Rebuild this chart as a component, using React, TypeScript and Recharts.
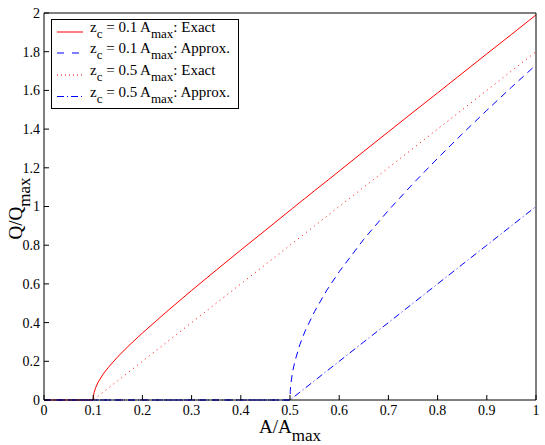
import React from 'react';
import { LineChart, Line, XAxis, YAxis, Legend } from 'recharts';

// A/Amax sample positions
const aValues = [
  0, 0.05, 0.1, 0.1005, 0.102, 0.105, 0.11, 0.12, 0.13, 0.15, 0.175, 0.2, 0.25, 0.3, 0.35, 0.4, 0.45, 0.5,
  0.5005, 0.502, 0.505, 0.51, 0.52, 0.53, 0.55, 0.575, 0.6, 0.65, 0.7, 0.75, 0.8, 0.85, 0.9, 0.95, 1,
];

// Q/Qmax
const redSolid = [
  0, 0, 0, 0.02, 0.04, 0.064, 0.092, 0.133, 0.166, 0.224, 0.287, 0.346, 0.458, 0.566, 0.671, 0.775, 0.877, 0.98,
  0.981, 0.984, 0.99, 1.0, 1.021, 1.041, 1.082, 1.132, 1.183, 1.285, 1.386, 1.487, 1.587, 1.688, 1.789, 1.889, 1.99,
];
const redDotted = [
  0, 0, 0, 0.001, 0.004, 0.01, 0.02, 0.04, 0.06, 0.1, 0.15, 0.2, 0.3, 0.4, 0.5, 0.6, 0.7, 0.8,
  0.801, 0.804, 0.81, 0.82, 0.84, 0.86, 0.9, 0.95, 1.0, 1.1, 1.2, 1.3, 1.4, 1.5, 1.6, 1.7, 1.8,
];
const blueDashed = [
  0, 0, 0, 0, 0, 0, 0, 0, 0, 0, 0, 0, 0, 0, 0, 0, 0, 0,
  0.045, 0.09, 0.142, 0.201, 0.286, 0.352, 0.458, 0.568, 0.663, 0.831, 0.98, 1.118, 1.249, 1.375, 1.497, 1.616, 1.732,
];
const blueDashDot = [
  0, 0, 0, 0, 0, 0, 0, 0, 0, 0, 0, 0, 0, 0, 0, 0, 0, 0,
  0.001, 0.004, 0.01, 0.02, 0.04, 0.06, 0.1, 0.15, 0.2, 0.3, 0.4, 0.5, 0.6, 0.7, 0.8, 0.9, 1.0,
];

const xTicks = [0, 0.1, 0.2, 0.3, 0.4, 0.5, 0.6, 0.7, 0.8, 0.9, 1];
const yTicks = [0, 0.2, 0.4, 0.6, 0.8, 1, 1.2, 1.4, 1.6, 1.8, 2];

const series = [
  { key: 'redSolid', zc: '0.1', kind: 'Exact', color: '#ff0000', dash: undefined, legendDash: undefined },
  { key: 'blueDashed', zc: '0.1', kind: 'Approx.', color: '#0000ff', dash: '7 5', legendDash: '7 8' },
  { key: 'redDotted', zc: '0.5', kind: 'Exact', color: '#ff0000', dash: '1 4', legendDash: '1 3' },
  { key: 'blueDashDot', zc: '0.5', kind: 'Approx.', color: '#0000ff', dash: '7 3 1 3', legendDash: '7 3 1 3' },
];
// draw order: reds underneath
const drawOrder = ['redSolid', 'redDotted', 'blueDashed', 'blueDashDot'];

const data = aValues.map((a, i) => ({
  a,
  redSolid: redSolid[i],
  redDotted: redDotted[i],
  blueDashed: blueDashed[i],
  blueDashDot: blueDashDot[i],
}));

const FONT = '"Liberation Serif", "Times New Roman", serif';

const XTick = (props: any) => (
  <text x={props.x} y={props.y} dy="0.71em" textAnchor="middle" fontFamily={FONT} fontSize={14} fill="#000">
    {props.payload.value}
  </text>
);

const YTick = (props: any) => (
  <text x={props.x} y={props.y} dy="0.355em" textAnchor="end" fontFamily={FONT} fontSize={14} fill="#000">
    {props.payload.value}
  </text>
);

const LegendBox = () => {
  const rowY = [13, 34, 56, 77.5];
  return (
    <svg width={188} height={90} style={{ display: 'block' }}>
      <rect x={0.5} y={0.5} width={187} height={89} fill="#fff" stroke="#000" strokeWidth={1} />
      {series.map((s, i) => (
        <g key={s.key}>
          <line x1={6} x2={32} y1={rowY[i]} y2={rowY[i]} stroke={s.color} strokeWidth={1} strokeDasharray={s.legendDash} />
          <text x={39} y={rowY[i]} fontFamily={FONT} fontSize={15} fill="#000" style={{ whiteSpace: 'pre' }}>
            z
            <tspan dy={6} fontSize={13}>c</tspan>
            <tspan dy={-6}>{` = ${s.zc} A`}</tspan>
            <tspan dy={6} fontSize={13}>max</tspan>
            <tspan dy={-6}>{`: ${s.kind}`}</tspan>
          </text>
        </g>
      ))}
    </svg>
  );
};

const XTitle = (props: any) => {
  const { x, y, width } = props.viewBox;
  return (
    <text x={x + width / 2} y={y + 33} textAnchor="middle" fontFamily={FONT} fontSize={19} fill="#000">
      A/A
      <tspan dy={8} fontSize={17}>max</tspan>
    </text>
  );
};

const YTitle = (props: any) => {
  const { x, y, width, height } = props.viewBox;
  const cx = x + width / 2;
  const cy = y + height / 2 + 2;
  return (
    <text x={cx} y={cy} transform={`rotate(-90, ${cx}, ${cy})`} textAnchor="middle" fontFamily={FONT} fontSize={19} fill="#000">
      Q/Q
      <tspan dy={8} fontSize={17}>max</tspan>
    </text>
  );
};

export default function App() {
  return (
    <div style={{ width: 545, height: 445, background: '#fff', fontFamily: FONT }}>
      <style>{'body{margin:0;overflow:hidden;}'}</style>
      <LineChart width={545} height={445} data={data} margin={{ top: 12, right: 8, bottom: 0, left: 0 }}>
        <XAxis
          dataKey="a"
          type="number"
          domain={[0, 1]}
          ticks={xTicks}
          interval={0}
          height={45}
          tickSize={-5}
          tickMargin={10}
          tick={<XTick />}
          tickLine={{ stroke: '#000' }}
          axisLine={{ stroke: '#000' }}
          label={{ content: XTitle }}
        />
        <XAxis
          xAxisId="top"
          orientation="top"
          dataKey="a"
          type="number"
          domain={[0, 1]}
          ticks={xTicks}
          interval={0}
          height={1}
          tickSize={-5}
          tick={false}
          tickLine={{ stroke: '#000' }}
          axisLine={{ stroke: '#000' }}
        />
        <YAxis
          type="number"
          domain={[0, 2]}
          ticks={yTicks}
          interval={0}
          width={44}
          tickSize={-5}
          tickMargin={9}
          tick={<YTick />}
          tickLine={{ stroke: '#000' }}
          axisLine={{ stroke: '#000' }}
          label={{ content: YTitle }}
        />
        <YAxis
          yAxisId="right"
          orientation="right"
          type="number"
          domain={[0, 2]}
          ticks={yTicks}
          interval={0}
          width={1}
          tickSize={-5}
          tick={false}
          tickLine={{ stroke: '#000' }}
          axisLine={{ stroke: '#000' }}
        />
        <Legend
          content={() => <LegendBox />}
          layout="horizontal"
          align="center"
          verticalAlign="middle"
          wrapperStyle={{ left: 51, top: 19, width: 188, height: 90 }}
        />
        {drawOrder.map((k) => {
          const s = series.find((v) => v.key === k)!;
          return (
            <Line
              key={k}
              type="linear"
              dataKey={k}
              stroke={s.color}
              strokeWidth={1}
              strokeDasharray={s.dash}
              dot={false}
              activeDot={false}
              isAnimationActive={false}
            />
          );
        })}
      </LineChart>
    </div>
  );
}
